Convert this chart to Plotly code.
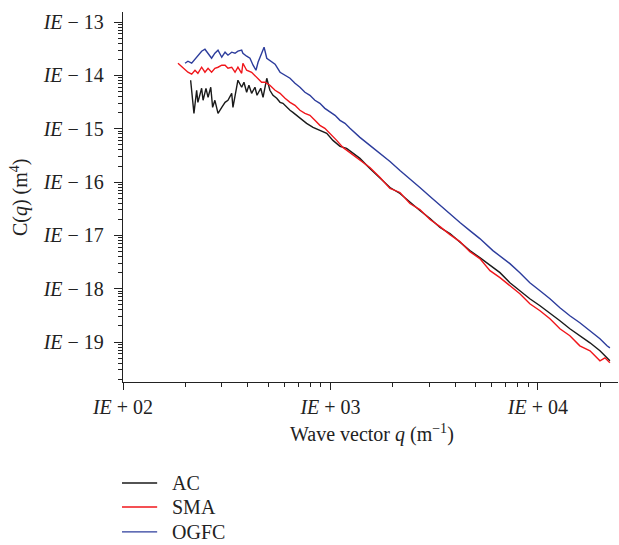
import numpy as np
import plotly.graph_objects as go

# Values, stored as base-10 exponents (log-log chart)
ac_log_q = [2.326, 2.342, 2.355, 2.361, 2.379, 2.386, 2.400, 2.410, 2.423, 2.432,
            2.443, 2.458, 2.476, 2.492, 2.506, 2.524, 2.530, 2.545, 2.554, 2.572,
            2.583, 2.596, 2.607, 2.620, 2.636, 2.646, 2.664, 2.675, 2.693, 2.708,
            2.723, 2.741, 2.757, 2.771, 2.789, 2.805, 2.819, 2.837, 2.853, 2.867,
            2.885, 2.916, 2.949, 2.982, 3.012, 3.046, 3.078, 3.108, 3.142, 3.190,
            3.239, 3.287, 3.335, 3.383, 3.431, 3.480, 3.528, 3.576, 3.624, 3.672,
            3.720, 3.769, 3.817, 3.865, 3.913, 3.961, 4.010, 4.058, 4.106, 4.154,
            4.202, 4.251, 4.299, 4.337, 4.347]
ac_log_c = [-14.090, -14.711, -14.278, -14.504, -14.241, -14.466, -14.241, -14.410, -14.222, -14.598,
            -14.466, -14.711, -14.598, -14.504, -14.466, -14.335, -14.598, -14.278, -14.090, -14.222,
            -14.128, -14.316, -14.184, -14.335, -14.222, -14.372, -14.241, -14.410, -14.053, -14.278,
            -14.372, -14.429, -14.504, -14.523, -14.598, -14.654, -14.692, -14.748, -14.805, -14.842,
            -14.898, -14.974, -15.030, -15.086, -15.218, -15.331, -15.368, -15.462, -15.556, -15.744,
            -15.932, -16.102, -16.214, -16.383, -16.534, -16.684, -16.853, -16.966, -17.135, -17.286,
            -17.417, -17.568, -17.699, -17.887, -18.038, -18.188, -18.320, -18.470, -18.602, -18.752,
            -18.883, -19.015, -19.165, -19.316, -19.353]

sma_log_q = [2.265, 2.289, 2.313, 2.331, 2.347, 2.361, 2.379, 2.395, 2.410, 2.427,
             2.443, 2.458, 2.476, 2.492, 2.506, 2.524, 2.540, 2.554, 2.572, 2.578,
             2.596, 2.620, 2.644, 2.668, 2.684, 2.708, 2.733, 2.757, 2.781, 2.805,
             2.829, 2.853, 2.877, 2.901, 2.925, 2.949, 2.973, 2.998, 3.030, 3.060,
             3.094, 3.126, 3.190, 3.239, 3.287, 3.335, 3.383, 3.431, 3.480, 3.528,
             3.576, 3.624, 3.672, 3.720, 3.769, 3.817, 3.865, 3.913, 3.961, 4.010,
             4.058, 4.106, 4.154, 4.202, 4.251, 4.299, 4.323, 4.347]
sma_log_c = [-13.771, -13.865, -13.940, -13.977, -13.902, -13.959, -13.846, -13.940, -13.865, -13.940,
             -13.865, -13.846, -13.808, -13.808, -13.865, -13.846, -13.940, -13.846, -13.959, -13.771,
             -13.902, -13.940, -14.034, -14.128, -14.128, -14.184, -14.278, -14.335, -14.429, -14.504,
             -14.560, -14.654, -14.711, -14.748, -14.842, -14.936, -14.992, -15.086, -15.218, -15.350,
             -15.444, -15.538, -15.726, -15.914, -16.120, -16.195, -16.402, -16.515, -16.703, -16.835,
             -16.985, -17.117, -17.305, -17.436, -17.662, -17.793, -17.944, -18.094, -18.282, -18.414,
             -18.564, -18.752, -18.883, -19.071, -19.165, -19.353, -19.297, -19.391]

ogfc_log_q = [2.299, 2.313, 2.331, 2.355, 2.379, 2.395, 2.410, 2.427, 2.443, 2.458,
              2.476, 2.492, 2.506, 2.524, 2.540, 2.554, 2.572, 2.578, 2.596, 2.612,
              2.627, 2.641, 2.651, 2.668, 2.680, 2.693, 2.708, 2.733, 2.757, 2.781,
              2.805, 2.829, 2.853, 2.877, 2.901, 2.925, 2.949, 2.973, 2.998, 3.022,
              3.046, 3.070, 3.094, 3.118, 3.142, 3.190, 3.239, 3.287, 3.335, 3.383,
              3.431, 3.480, 3.528, 3.576, 3.624, 3.672, 3.720, 3.783, 3.817, 3.865,
              3.913, 3.961, 4.010, 4.058, 4.106, 4.154, 4.202, 4.251, 4.299, 4.333,
              4.347]
ogfc_log_c = [-13.771, -13.733, -13.771, -13.658, -13.545, -13.508, -13.583, -13.677, -13.583, -13.526,
              -13.658, -13.564, -13.620, -13.564, -13.583, -13.545, -13.526, -13.583, -13.639, -13.677,
              -13.808, -13.902, -13.752, -13.564, -13.470, -13.677, -13.714, -13.789, -13.940, -13.996,
              -14.053, -14.147, -14.222, -14.316, -14.372, -14.466, -14.523, -14.617, -14.692, -14.748,
              -14.842, -14.898, -14.992, -15.086, -15.162, -15.312, -15.462, -15.613, -15.782, -15.951,
              -16.102, -16.271, -16.440, -16.590, -16.759, -16.910, -17.060, -17.286, -17.380, -17.530,
              -17.699, -17.887, -18.038, -18.188, -18.357, -18.508, -18.639, -18.789, -18.940, -19.071,
              -19.109]

series_names = ["AC", "SMA", "OGFC"]
series_colors = ["#1a1a1a", "#f0161b", "#2c3c9c"]

x_tick_exps = [2, 3, 4]
x_tick_text = ["<i>IE</i> + 02", "<i>IE</i> + 03", "<i>IE</i> + 04"]
y_tick_exps = [-13, -14, -15, -16, -17, -18, -19]
y_tick_text = ["<i>IE</i> − 13", "<i>IE</i> − 14", "<i>IE</i> − 15", "<i>IE</i> − 16",
               "<i>IE</i> − 17", "<i>IE</i> − 18", "<i>IE</i> − 19"]

FONT = "Liberation Serif, Times New Roman, serif"
TXT = "#222"

fig = go.Figure()
for name, color, lq, lc in zip(series_names, series_colors,
                               [ac_log_q, sma_log_q, ogfc_log_q],
                               [ac_log_c, sma_log_c, ogfc_log_c]):
    fig.add_trace(go.Scatter(
        x=10 ** np.array(lq), y=10 ** np.array(lc), mode="lines", name=name,
        line=dict(color=color, width=1.4), showlegend=False))

axis_common = dict(
    showline=True, linecolor=TXT, linewidth=1.3, showgrid=False, zeroline=False,
    ticks="outside", tickcolor=TXT, tickwidth=1.2,
    tickfont=dict(family=FONT, size=20, color=TXT),
    minor=dict(ticks="outside", ticklen=4, tickcolor=TXT, tickwidth=1, dtick="D1", showgrid=False),
)

# Legend drawn below the plot (line sample + label per series)
legend_rows_y = [-0.273, -0.338, -0.405]
shapes = []
annotations = []
for name, color, ly in zip(series_names, series_colors, legend_rows_y):
    shapes.append(dict(type="line", xref="paper", yref="paper", x0=-0.002, x1=0.069,
                       y0=ly, y1=ly, line=dict(color=color, width=1.4)))
    annotations.append(dict(text=name, xref="paper", yref="paper", x=0.095, y=ly,
                            xanchor="left", yanchor="middle", showarrow=False,
                            font=dict(family=FONT, size=20, color=TXT)))

annotations += [
    dict(text="Wave vector <i>q</i> (m<sup>−1</sup>)", xref="paper", yref="paper",
         x=0.503, y=-0.14, xanchor="center", yanchor="middle", showarrow=False,
         font=dict(family=FONT, size=20, color=TXT)),
    dict(text="C(<i>q</i>) (m<sup>4</sup>)", xref="paper", yref="paper",
         x=-0.21, y=0.50, xanchor="center", yanchor="middle", showarrow=False,
         textangle=-90, font=dict(family=FONT, size=20, color=TXT)),
]

fig.update_layout(
    width=619, height=545,
    margin=dict(l=123, r=1, t=12, b=163),
    paper_bgcolor="white", plot_bgcolor="white",
    font=dict(family=FONT, size=20, color=TXT),
    showlegend=False,
    xaxis=dict(type="log", range=[2, 4.386],
               tickvals=[10 ** e for e in x_tick_exps], ticktext=x_tick_text,
               ticklen=7, **axis_common),
    yaxis=dict(type="log", range=[-19.75, -12.81],
               tickvals=[10 ** e for e in y_tick_exps], ticktext=y_tick_text,
               ticklen=8, ticklabelstandoff=6, **axis_common),
    shapes=shapes,
    annotations=annotations,
)

fig.write_html("out.html")
